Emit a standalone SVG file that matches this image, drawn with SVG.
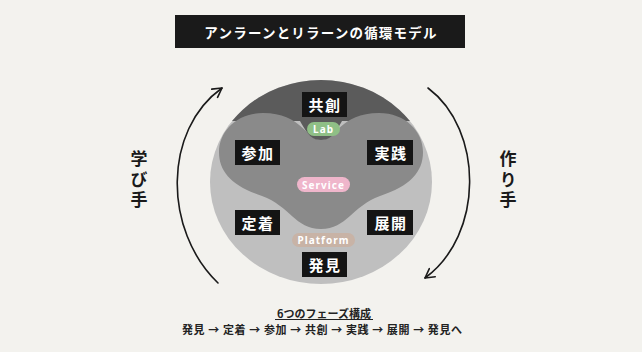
<svg xmlns="http://www.w3.org/2000/svg" width="642" height="352" viewBox="0 0 642 352">
<defs>
<style>
.jp{font-family:"Noto Sans CJK JP","Noto Sans",sans-serif;font-weight:700}
.box{fill:#141414}
.bt{fill:#fff;font-size:15px;text-anchor:middle;dominant-baseline:central;letter-spacing:1.5px}
.pill{font-family:"Noto Sans","DejaVu Sans",sans-serif;font-weight:700;fill:#fff;text-anchor:middle;dominant-baseline:central;letter-spacing:1px}
.side{fill:#1a1a1a;font-size:17px;text-anchor:middle;writing-mode:vertical-rl;letter-spacing:3.5px}
.arc{fill:none;stroke:#1a1a1a;stroke-width:1.6;stroke-linecap:round}
</style>
<marker id="ah" viewBox="0 0 12 12" refX="10" refY="6" markerWidth="12" markerHeight="12" markerUnits="userSpaceOnUse" orient="auto">
<path d="M1,1 L10,6 L1,11" fill="none" stroke="#1a1a1a" stroke-width="1.6" stroke-linecap="round" stroke-linejoin="round"/>
</marker>
<clipPath id="cap"><rect x="0" y="0" width="642" height="121"/></clipPath>
</defs>
<rect width="642" height="352" fill="#f3f2ee"/>

<g id="title">
<rect x="175" y="15" width="290" height="33" fill="#1a1a1a"/>
<text class="jp" x="321" y="32" fill="#fff" font-size="13.5" text-anchor="middle" dominant-baseline="central" letter-spacing="1.2">アンラーンとリラーンの循環モデル</text>
</g>

<g id="layers">
<ellipse id="platform-layer" cx="321" cy="182" rx="111" ry="102" fill="#bfbfbf"/>
<ellipse id="lab-layer" cx="321" cy="182" rx="111" ry="102" fill="#5b5b5b" clip-path="url(#cap)"/>
<path id="service-layer" fill="#8a8a8a" d="M321,140 C306,140 302,113 263,113 C237,113 219,131 219,152 C219,172 232,186 262,196 C290,206 295,229 321,229 C347,229 352,206 380,196 C410,186 423,172 423,152 C423,131 405,113 379,113 C340,113 336,140 321,140 Z"/>
<path fill="#5b5b5b" d="M300,121 C308,136 313,140 321,140 C329,140 334,136 342,121 Z"/>
</g>

<g id="connectors">
<path class="arc" d="M218,283 C163,230 163,130 222,88" marker-end="url(#ah)"/>
<path class="arc" d="M428,88 C484,130 484,235 425,278" marker-end="url(#ah)"/>
</g>

<g id="lab">
<rect x="307" y="122" width="33" height="14" rx="7" fill="#8fbf86"/>
<text class="pill" x="323.5" y="129" font-size="10">Lab</text>
</g>
<g id="service">
<rect x="297" y="177" width="53" height="15" rx="7.5" fill="#efb6cb"/>
<text class="pill" x="323.5" y="184.5" font-size="10">Service</text>
</g>
<g id="platform">
<rect x="292" y="233" width="63" height="14" rx="7" fill="#c8b3a6"/>
<text class="pill" x="323.5" y="240" font-size="10">Platform</text>
</g>

<g id="n-kyoso"><rect class="box" x="302" y="92" width="45" height="25"/><text class="jp bt" x="325" y="104.5">共創</text></g>
<g id="n-sanka"><rect class="box" x="235" y="140" width="45" height="25"/><text class="jp bt" x="258" y="152.5">参加</text></g>
<g id="n-jissen"><rect class="box" x="367" y="140" width="46" height="25"/><text class="jp bt" x="391" y="152.5">実践</text></g>
<g id="n-teichaku"><rect class="box" x="235" y="210" width="45" height="25"/><text class="jp bt" x="258" y="222.5">定着</text></g>
<g id="n-tenkai"><rect class="box" x="367" y="210" width="46" height="25"/><text class="jp bt" x="391" y="222.5">展開</text></g>
<g id="n-hakken"><rect class="box" x="302" y="252" width="45" height="25"/><text class="jp bt" x="325" y="264.5">発見</text></g>

<g id="manabite">
<text class="jp side" x="139" y="181">学び手</text>
</g>
<g id="tsukurite">
<text class="jp side" x="508" y="181">作り手</text>
</g>

<g id="legend">
<text class="jp" x="324" y="313" font-size="11" fill="#222" text-anchor="middle" dominant-baseline="central">6つのフェーズ構成</text>
<line x1="275" y1="319.5" x2="373" y2="319.5" stroke="#222" stroke-width="1"/>
<text class="jp" x="322" y="329" font-size="11" fill="#222" text-anchor="middle" dominant-baseline="central" textLength="280" lengthAdjust="spacing">発見 → 定着 → 参加 → 共創 → 実践 → 展開 → 発見へ</text>
</g>
</svg>
